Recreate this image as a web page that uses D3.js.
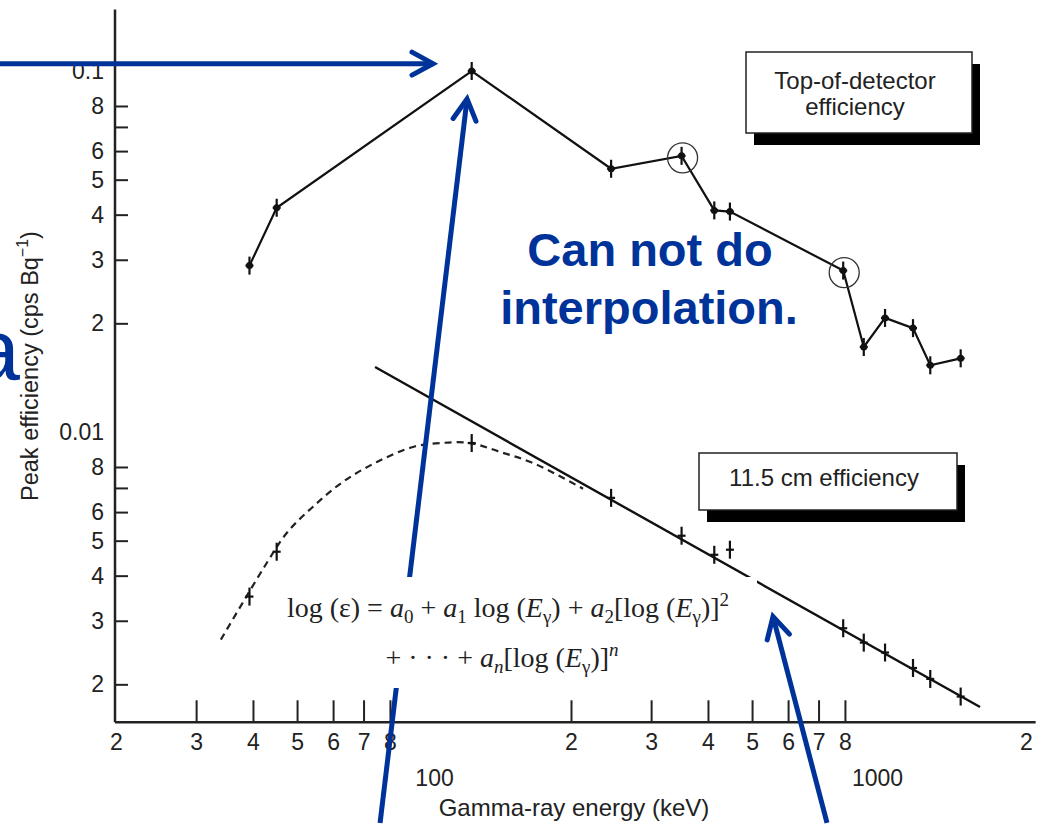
<!DOCTYPE html>
<html>
<head>
<meta charset="utf-8">
<script src="https://cdn.jsdelivr.net/npm/d3@7"></script>
<style>
  body { margin: 0; background: #fff; }
  svg { display: block; font-family: "Liberation Sans", Arial, sans-serif; }
</style>
</head>
<body>
<div id="chart"></div>
<script>
// measured energies (keV) shared by both detector geometries
const energy = [39.3, 45.1, 121, 245, 350, 413, 447, 793, 880, 980, 1129, 1232, 1437];
const topEff = [0.0289, 0.0418, 0.1, 0.0536, 0.0582, 0.0411, 0.0408, 0.0280, 0.0172, 0.0207, 0.0194, 0.0153, 0.0160];
const cmEff = [0.00350, 0.00466, 0.00932, 0.00657, 0.00516, 0.00457, 0.00472, 0.00286, 0.00261, 0.00245, 0.00222, 0.00207, 0.00185];
const circledIdx = [4, 7];

// fitted curve for 11.5 cm (solid part, straight in log-log)
const fitE = [74.2, 1585];
const fitEff = [0.01513, 0.00173];
// low-energy dashed part of the fit
const dashE = [34.0, 38.0, 42.95, 47.5, 54.2, 63.1, 74.9, 89.9, 103.1, 120, 139.6, 166.7, 212.6];
const dashEff = [0.00266, 0.00337, 0.00435, 0.00526, 0.00621, 0.00728, 0.00826, 0.00909, 0.00932, 0.00932, 0.00881, 0.00816, 0.00696];

const xTicks = [20, 30, 40, 50, 60, 70, 80, 100, 200, 300, 400, 500, 600, 700, 800, 1000, 2000];
const xTickLabels = ["2", "3", "4", "5", "6", "7", "8", "100", "2", "3", "4", "5", "6", "7", "8", "1000", "2"];
const xNoMark = [20, 100, 1000, 2000];
const yTicks = [0.002, 0.003, 0.004, 0.005, 0.006, 0.007, 0.008, 0.01, 0.02, 0.03, 0.04, 0.05, 0.06, 0.07, 0.08, 0.1];
const yTickLabels = ["2", "3", "4", "5", "6", "", "8", "0.01", "2", "3", "4", "5", "6", "", "8", "0.1"];
const yNoMark = [0.01, 0.1];

// annotation arrows in data coords: [tailE, tailEff, tipE, tipEff]
const arrows = [
  [10.8, 0.1048, 99.5, 0.1048],
  [76.1, 0.000826, 118.2, 0.0837],
  [730.6, 0.000826, 555.9, 0.00308]
];

const blue = "#003399";
const W = 1043, H = 824;

const svg = d3.select("#chart").append("svg")
  .attr("width", W)
  .attr("height", H);

svg.append("rect").attr("width", W).attr("height", H).attr("fill", "#fff");

const x = d3.scaleLog().domain([20, 2000]).range([116, 1026]);
const y = d3.scaleLog().domain([0.001, 0.1]).range([793, 71]);
const xEnd = 2100, yTop = 0.148, yBottom = 0.00157;

// axes
const xAxis = svg.append("g")
  .attr("transform", `translate(0,${y(yBottom)})`)
  .call(d3.axisBottom(x)
    .tickValues(xTicks)
    .tickFormat((d, i) => xTickLabels[i])
    .tickSizeInner(-22)
    .tickSizeOuter(0)
    .tickPadding(11));
xAxis.select(".domain").remove();
xAxis.selectAll(".tick line")
  .attr("stroke", "#222").attr("stroke-width", 2)
  .filter(d => xNoMark.includes(d)).remove();
xAxis.selectAll(".tick text")
  .attr("font-size", 23).attr("font-family", "Liberation Sans, Arial, sans-serif").attr("fill", "#222")
  .attr("dx", d => d === 1000 ? -12 : 0)
  .attr("dy", d => (d === 100 || d === 1000) ? "2.3em" : "0.71em");

const yAxis = svg.append("g")
  .attr("transform", `translate(${x(20) - 1},0)`)
  .call(d3.axisLeft(y)
    .tickValues(yTicks)
    .tickFormat((d, i) => yTickLabels[i])
    .tickSizeInner(-13)
    .tickSizeOuter(0)
    .tickPadding(11));
yAxis.select(".domain").remove();
yAxis.selectAll(".tick line")
  .attr("stroke", "#222").attr("stroke-width", 2)
  .filter(d => yNoMark.includes(d)).remove();
yAxis.selectAll(".tick text")
  .attr("font-size", 23).attr("font-family", "Liberation Sans, Arial, sans-serif").attr("fill", "#222");

svg.append("line")
  .attr("x1", x(20) - 1).attr("x2", x(xEnd))
  .attr("y1", y(yBottom)).attr("y2", y(yBottom))
  .attr("stroke", "#222").attr("stroke-width", 2.5);
svg.append("line")
  .attr("x1", x(20) - 1).attr("x2", x(20) - 1)
  .attr("y1", y(yTop)).attr("y2", y(yBottom))
  .attr("stroke", "#222").attr("stroke-width", 2.5);

svg.append("text")
  .attr("x", 574).attr("y", 816)
  .attr("text-anchor", "middle")
  .attr("font-size", 24).attr("fill", "#222")
  .text("Gamma-ray energy (keV)");

const yTitle = svg.append("text")
  .attr("transform", "translate(38,366) rotate(-90)")
  .attr("text-anchor", "middle")
  .attr("font-size", 23.5).attr("fill", "#222");
yTitle.append("tspan").text("Peak efficiency (cps Bq");
yTitle.append("tspan").attr("dy", -10).attr("font-size", 16).text("\u22121");
yTitle.append("tspan").attr("dy", 10).text(")");

// curves
const pts = (xs, ys) => xs.map((e, i) => [x(e), y(ys[i])]);
const line = d3.line();

svg.append("path")
  .attr("d", line(pts(energy, topEff)))
  .attr("fill", "none").attr("stroke", "#111").attr("stroke-width", 2.2);

svg.append("path")
  .attr("d", line(pts(fitE, fitEff)))
  .attr("fill", "none").attr("stroke", "#111").attr("stroke-width", 2.4);

svg.append("path")
  .attr("d", d3.line().curve(d3.curveCatmullRom.alpha(0.5))(pts(dashE, dashEff)))
  .attr("fill", "none").attr("stroke", "#222").attr("stroke-width", 2.2)
  .attr("stroke-dasharray", "7 5");

// points with error bars
function drawPoints(ys, big) {
  const g = svg.append("g");
  energy.forEach((e, i) => {
    const px = x(e), py = y(ys[i]);
    g.append("line").attr("x1", px).attr("x2", px).attr("y1", py - 9).attr("y2", py + 9)
      .attr("stroke", "#111").attr("stroke-width", 2.2);
    g.append("line").attr("x1", px - 4).attr("x2", px + 4).attr("y1", py).attr("y2", py)
      .attr("stroke", "#111").attr("stroke-width", 2.2);
    if (big) g.append("circle").attr("cx", px).attr("cy", py).attr("r", 3.5).attr("fill", "#111");
  });
}
drawPoints(topEff, true);
drawPoints(cmEff, false);

circledIdx.forEach(i => {
  svg.append("circle")
    .attr("cx", x(energy[i]) + 1).attr("cy", y(topEff[i]) + 2).attr("r", 15)
    .attr("fill", "none").attr("stroke", "#333").attr("stroke-width", 1.3);
});

// labelled boxes with drop shadows
function shadowBox(bx, by, bw, bh, lines, ty) {
  svg.append("rect").attr("x", bx + 8).attr("y", by + 12).attr("width", bw).attr("height", bh).attr("fill", "#000");
  svg.append("rect").attr("x", bx).attr("y", by).attr("width", bw).attr("height", bh)
    .attr("fill", "#fff").attr("stroke", "#222").attr("stroke-width", 1.5);
  lines.forEach((t, k) => {
    svg.append("text")
      .attr("x", bx + bw / 2 - 4).attr("y", ty + k * 26)
      .attr("text-anchor", "middle").attr("font-size", 24).attr("fill", "#222")
      .text(t);
  });
}
shadowBox(746, 52, 226, 81, ["Top-of-detector", "efficiency"], 89);
shadowBox(699, 453, 258, 57, ["11.5 cm efficiency"], 486);

// blue arrows
arrows.forEach(a => {
  const x1 = x(a[0]), y1 = y(a[1]), x2 = x(a[2]), y2 = y(a[3]);
  const ang = Math.atan2(y2 - y1, x2 - x1), len = 24, spread = 0.5;
  svg.append("line").attr("x1", x1).attr("y1", y1).attr("x2", x2).attr("y2", y2)
    .attr("stroke", blue).attr("stroke-width", 5);
  svg.append("path")
    .attr("d", d3.line()([
      [x2 - len * Math.cos(ang - spread), y2 - len * Math.sin(ang - spread)],
      [x2, y2],
      [x2 - len * Math.cos(ang + spread), y2 - len * Math.sin(ang + spread)]
    ]))
    .attr("fill", "none").attr("stroke", blue).attr("stroke-width", 5)
    .attr("stroke-linecap", "round").attr("stroke-linejoin", "miter");
});

// formula on a white patch
svg.append("rect").attr("x", 281).attr("y", 577).attr("width", 476).attr("height", 111).attr("fill", "#fff");

function formula(cx, by, segs) {
  const t = svg.append("text")
    .attr("x", cx).attr("y", by)
    .attr("text-anchor", "middle")
    .attr("font-family", "Liberation Serif, Times New Roman, serif")
    .attr("font-size", 28).attr("fill", "#222");
  let shift = 0;
  segs.forEach(([s, kind]) => {
    const small = kind.startsWith("sub") || kind.startsWith("sup");
    const target = kind.startsWith("sub") ? 6 : kind.startsWith("sup") ? -11 : 0;
    const sp = t.append("tspan").attr("dy", target - shift).text(s);
    shift = target;
    if (kind === "i" || kind.endsWith("-i")) sp.attr("font-style", "italic");
    if (small) sp.attr("font-size", 19);
  });
}
formula(508, 617, [
  ["log  (\u03b5) = ", "n"], ["a", "i"], ["0", "sub"], [" + ", "n"], ["a", "i"], ["1", "sub"],
  [" log  (", "n"], ["E", "i"], ["\u03b3", "sub"], [") + ", "n"], ["a", "i"], ["2", "sub"],
  ["[log  (", "n"], ["E", "i"], ["\u03b3", "sub"], [")]", "n"], ["2", "sup"]
]);
formula(502, 667, [
  ["+ \u00b7 \u00b7 \u00b7 + ", "n"], ["a", "i"], ["n", "sub-i"], ["[log  (", "n"], ["E", "i"], ["\u03b3", "sub"],
  [")]", "n"], ["n", "sup-i"]
]);

// slide annotations
svg.append("text").attr("x", 650).attr("y", 266)
  .attr("text-anchor", "middle").attr("font-size", 47).attr("font-weight", "bold").attr("fill", blue)
  .text("Can not do");
svg.append("text").attr("x", 649).attr("y", 324)
  .attr("text-anchor", "middle").attr("font-size", 47).attr("font-weight", "bold").attr("fill", blue)
  .text("interpolation.");
svg.append("text").attr("x", 20).attr("y", 380)
  .attr("text-anchor", "end").attr("font-size", 88).attr("fill", blue)
  .text("a");
</script>
</body>
</html>
